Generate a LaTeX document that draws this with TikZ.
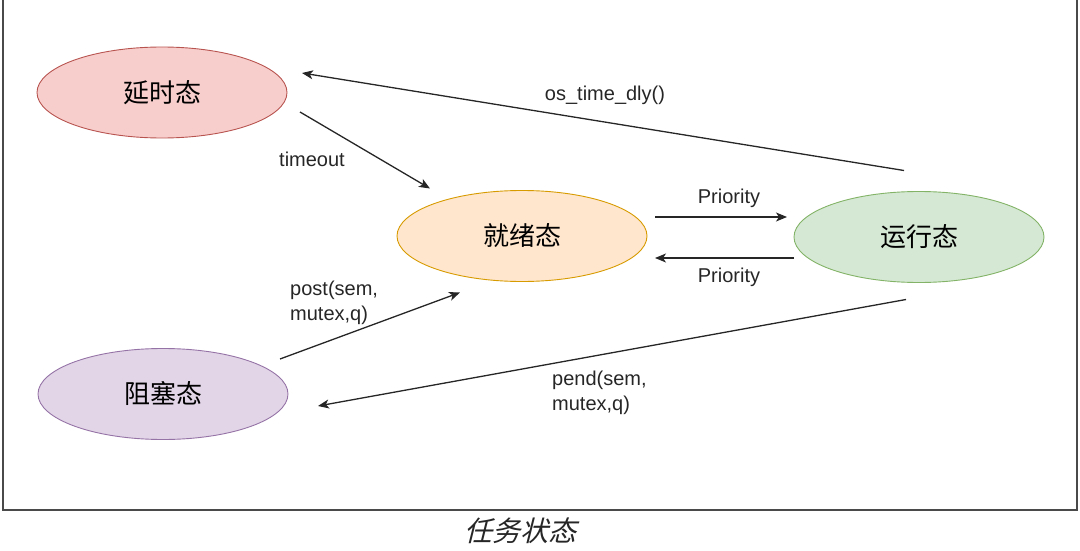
\documentclass[tikz,border=0pt]{standalone}
\usepackage{fontspec}
\setmainfont{Liberation Sans}
\newfontfamily\cjk{Noto Sans CJK SC}
\newfontfamily\cjkslant[FakeSlant=0.25]{Noto Sans CJK SC}
\usetikzlibrary{shapes.geometric,arrows.meta}

\definecolor{delayfill}{HTML}{F8CECC}
\definecolor{delayline}{HTML}{B85450}
\definecolor{readyfill}{HTML}{FFE6CC}
\definecolor{readyline}{HTML}{D79B00}
\definecolor{runfill}{HTML}{D5E8D4}
\definecolor{runline}{HTML}{82B366}
\definecolor{blockfill}{HTML}{E1D5E7}
\definecolor{blockline}{HTML}{9673A6}
\definecolor{framecol}{HTML}{4A4A4A}

\tikzset{
  state/.style={
    ellipse,draw,line width=0.9pt,inner sep=0,outer sep=0,
    minimum width=250pt,minimum height=91pt,
    font=\cjk\fontsize{26}{30}\selectfont,
  },
  trans/.style={
    -{Stealth[length=11pt,width=9pt,inset=3pt]},line width=1.3pt,draw=black!85,
  },
  txt/.style={
    font=\fontsize{20}{25}\selectfont,text=black!85,inner sep=0,
  }
}

\begin{document}
\begin{tikzpicture}[x=1pt,y=-1pt]
    \useasboundingbox (0,0) rectangle (1080,551);
    \draw[framecol,line width=1.5pt] (3,0) -- (3,510) -- (1077,510) -- (1077,0);

    \node[state,fill=delayfill,draw=delayline] (delay) at (162,92.5) {延时态};
    \node[state,fill=readyfill,draw=readyline] (ready) at (522,236)  {就绪态};
    \node[state,fill=runfill,draw=runline]     (run)   at (919,237)  {运行态};
    \node[state,fill=blockfill,draw=blockline] (block) at (163,394)  {阻塞态};

    \draw[trans] ([shift={(-15,-21)}]run.north) -- ([shift={(15,-19.5)}]delay.east);
    \draw[trans] ([shift={(13,19.5)}]delay.east) -- ([shift={(-92,-2)}]ready.north);
    \draw[trans] ([shift={(8,-19)}]ready.east)   -- ([shift={(-7,-20)}]run.west);
    \draw[trans] ([shift={(0,21)}]run.west)      -- ([shift={(8,22)}]ready.east);
    \draw[trans] ([shift={(-8,-35)}]block.east)  -- ([shift={(-62,11)}]ready.south);
    \draw[trans] ([shift={(-13,17)}]run.south)   -- ([shift={(30,12)}]block.east);

    \node[txt] (tdly)     at (605,95)  {os\_time\_dly()};
    \node[txt] (ttimeout) at (312,159) {timeout};
    \node[txt] (tprioup)  at (729,198) {Priority};
    \node[txt] (tpriodn)  at (729,277) {Priority};
    \node[txt,align=left,anchor=west] (tpost) at (290,303) {post(sem,\\mutex,q)};
    \node[txt,align=left,anchor=west] (tpend) at (552,393) {pend(sem,\\mutex,q)};

    \node[font=\cjkslant\fontsize{28}{32}\selectfont,text=black!85] (caption) at (520,531) {任务状态};
\end{tikzpicture}
\end{document}
